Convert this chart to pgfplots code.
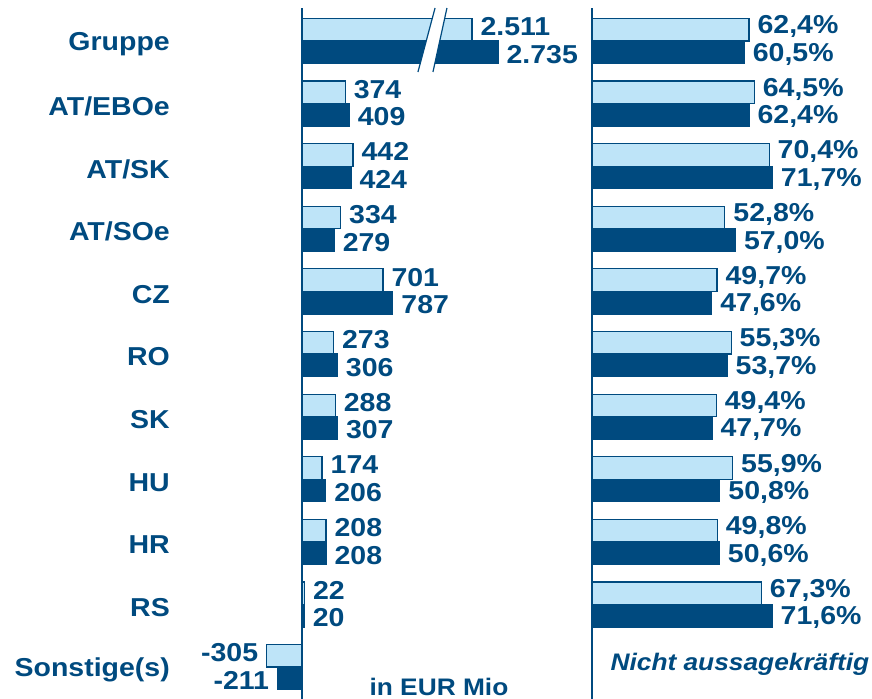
\documentclass[border=0pt]{standalone}
\usepackage{fontspec}
\setmainfont{Liberation Sans}[FakeStretch=1.1]
\usepackage{pgfplots}
\pgfplotsset{compat=1.18}
\definecolor{dblue}{RGB}{0,74,127}
\definecolor{lblue}{RGB}{190,228,248}

\pgfplotsset{
  panel/.style={
    scale only axis, height=699bp,
    ymin=-0.655, ymax=10.51, y dir=reverse,
    axis lines*=left, axis line style={draw=none},
    major tick length=0pt, xtick=\empty,
    xbar, bar width=0.36, clip=false,
    nodes near coords align={horizontal},
    every node near coord/.append style={font=\fontsize{26}{26}\selectfont\bfseries, text=dblue, inner xsep=8bp},
  },
  lightbar/.style={fill=lblue, draw=dblue, line width=1.2bp, bar shift=-0.18,
    every node near coord/.append style={yshift=3bp}},
  darkbar/.style={fill=dblue, draw=dblue, line width=1.2bp, bar shift=0.18,
    every node near coord/.append style={yshift=-2bp}},
}

\begin{document}
\begin{tikzpicture}[x=1bp,y=1bp]
\path[use as bounding box] (0,0) rectangle (872,699);

% ---------- left panel: in EUR Mio
\begin{axis}[panel,
  at={(180bp,0bp)}, anchor=south west, width=400bp,
  xmin=-1056, xmax=2407,
  ytick={0,...,10},
  yticklabels={Gruppe,AT/EBOe,AT/SK,AT/SOe,CZ,RO,SK,HU,HR,RS,Sonstige(s)},
  yticklabel style={font=\fontsize{26}{26}\selectfont\bfseries, text=dblue, anchor=east, inner xsep=0pt, xshift=-10bp, yshift=-3bp},
  point meta=explicit,
  nodes near coords={\pgfmathprintnumber[fixed, precision=0, 1000 sep={.}, assume math mode=true]{\pgfplotspointmeta}},
]
\addplot[lightbar] table[x=v, y=c, meta=l] {
c v l
0 1472 2511
1 374 374
2 442 442
3 334 334
4 701 701
5 273 273
6 288 288
7 174 174
8 208 208
9 22 22
10 -305 -305
};
\addplot[darkbar] table[x=v, y=c, meta=l] {
c v l
0 1697 2735
1 409 409
2 424 424
3 279 279
4 787 787
5 306 306
6 307 307
7 206 206
8 208 208
9 20 20
10 -211 -211
};
% axis break on the Gruppe bars
\fill[white] (axis cs:1004,0.495) -- (axis cs:1152,-0.527) -- (axis cs:1255,-0.527) -- (axis cs:1134,0.495) -- cycle;
\draw[dblue, line width=1.2bp] (axis cs:1004,0.495) -- (axis cs:1152,-0.527);
\draw[dblue, line width=1.2bp] (axis cs:1134,0.495) -- (axis cs:1255,-0.527);
% zero line
\draw[dblue, line width=2bp] (axis cs:0,-0.527) -- (axis cs:0,10.51);
\node[font=\fontsize{24}{24}\selectfont\bfseries, text=dblue] at (axis cs:1186,10.31) {in EUR Mio};
\end{axis}

% ---------- right panel: percentages
\begin{axis}[panel,
  at={(580bp,0bp)}, anchor=south west, width=292bp,
  xmin=-4.77, xmax=111.3,
  ytick=\empty,
  point meta=explicit,
  nodes near coords={\pgfmathprintnumber[fixed, fixed zerofill, precision=1, use comma, assume math mode=true]{\pgfplotspointmeta}\%},
]
\addplot[lightbar] table[x=v, y=c, meta=v] {
c v
0 62.4
1 64.5
2 70.4
3 52.8
4 49.7
5 55.3
6 49.4
7 55.9
8 49.8
9 67.3
};
\addplot[darkbar] table[x=v, y=c, meta=v] {
c v
0 60.5
1 62.4
2 71.7
3 57.0
4 47.6
5 53.7
6 47.7
7 50.8
8 50.6
9 71.6
};
\draw[dblue, line width=2bp] (axis cs:0,-0.527) -- (axis cs:0,10.51);
\node[font=\fontsize{24}{24}\selectfont\bfseries\itshape, text=dblue] at (axis cs:58.8,9.96) {Nicht aussagekräftig};
\end{axis}
\end{tikzpicture}
\end{document}
